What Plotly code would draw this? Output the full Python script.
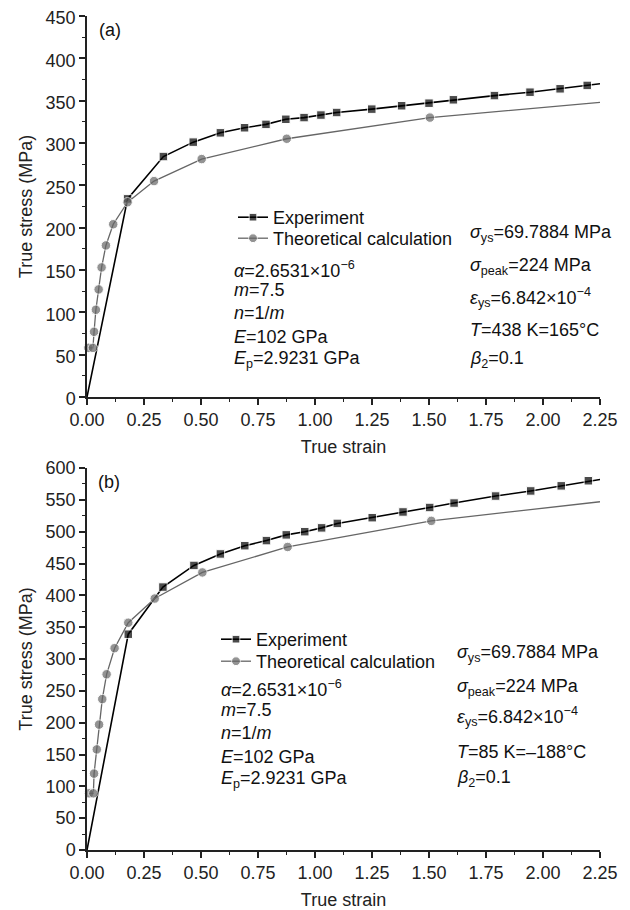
import plotly.graph_objects as go

# ---------------- data ----------------
exp_a_x = [0, 0.178, 0.335, 0.466, 0.585, 0.691, 0.785, 0.872, 0.952, 1.026, 1.095, 1.249, 1.380, 1.500, 1.607, 1.787, 1.943, 2.075, 2.194, 2.25]
exp_a_y = [0, 234, 284, 301, 312, 318, 322, 328, 330, 333, 336, 340, 344, 347, 351, 356, 360, 364, 368, 370]
th_a_x = [0.006, 0.026, 0.031, 0.039, 0.051, 0.064, 0.083, 0.115, 0.178, 0.294, 0.503, 0.876, 1.504, 2.25]
th_a_y = [58, 58, 77, 103, 127, 153, 179, 204, 230, 255, 281, 305, 330, 348]

exp_b_x = [0, 0.181, 0.333, 0.469, 0.585, 0.692, 0.787, 0.874, 0.955, 1.029, 1.098, 1.251, 1.386, 1.503, 1.610, 1.792, 1.946, 2.080, 2.199, 2.25]
exp_b_y = [0, 339, 413, 447, 465, 478, 486, 495, 500, 506, 513, 522, 531, 538, 545, 556, 564, 572, 580, 582]
th_b_x = [0.009, 0.028, 0.031, 0.043, 0.053, 0.067, 0.086, 0.121, 0.181, 0.297, 0.506, 0.880, 1.510, 2.25]
th_b_y = [89, 89, 120, 158, 197, 237, 276, 317, 357, 395, 436, 476, 517, 547]

series_names = ["Experiment", "Theoretical calculation"]
x_ticks = [0, 0.25, 0.5, 0.75, 1.0, 1.25, 1.5, 1.75, 2.0, 2.25]

params_left = ["<i>α</i>=2.6531×10<sup>−6</sup>", "<i>m</i>=7.5", "<i>n</i>=1/<i>m</i>",
               "<i>E</i>=102 GPa", "<i>E</i><sub>p</sub>=2.9231 GPa"]
params_right_a = ["<i>σ</i><sub>ys</sub>=69.7884 MPa", "<i>σ</i><sub>peak</sub>=224 MPa",
                  "<i>ε</i><sub>ys</sub>=6.842×10<sup>−4</sup>", "<i>T</i>=438 K=165°C",
                  "<i>β</i><sub>2</sub>=0.1"]
params_right_b = ["<i>σ</i><sub>ys</sub>=69.7884 MPa", "<i>σ</i><sub>peak</sub>=224 MPa",
                  "<i>ε</i><sub>ys</sub>=6.842×10<sup>−4</sup>", "<i>T</i>=85 K=–188°C",
                  "<i>β</i><sub>2</sub>=0.1"]

FONT = "Liberation Sans, Arial, sans-serif"
EXP_C = "#000000"
TH_C = "#666666"
TXT = 18

def sizes(n, s, last_zero=True, first_zero=False):
    arr = [s] * n
    if last_zero:
        arr[-1] = 0
    if first_zero:
        arr[0] = 0
    return arr

fig = go.Figure()

panels = [
    (exp_a_x, exp_a_y, th_a_x, th_a_y, "x", "y", "legend", "legend3"),
    (exp_b_x, exp_b_y, th_b_x, th_b_y, "x2", "y2", "legend2", "legend4"),
]
for ex, ey, tx, ty, xr, yr, lg_e, lg_t in panels:
    fig.add_trace(go.Scatter(x=ex, y=ey, mode="lines+markers", name=series_names[0],
                             line=dict(color=EXP_C, width=1.6),
                             marker=dict(symbol="square", color=EXP_C, size=sizes(len(ex), 8.5, True, True)),
                             xaxis=xr, yaxis=yr, legend=lg_e, cliponaxis=False))
    fig.add_trace(go.Scatter(x=tx, y=ty, mode="lines+markers", name=series_names[1],
                             line=dict(color=TH_C, width=1.3),
                             marker=dict(symbol="circle", color=TH_C, size=sizes(len(tx), 9.5)),
                             xaxis=xr, yaxis=yr, legend=lg_t, cliponaxis=False))

axis_common = dict(showline=True, linecolor="#222", linewidth=1.5, ticks="outside", ticklen=6,
                   tickwidth=1.5, tickcolor="#222", showgrid=False, zeroline=False, automargin=False,
                   ticklabeloverflow="allow",
                   tickfont=dict(family=FONT, size=TXT, color="#222"))

xa = dict(axis_common, range=[0, 2.25], tickvals=x_ticks, tickformat=".2f",
          minor=dict(ticks="outside", ticklen=3, tickwidth=1.2, tickcolor="#222", dtick=0.125, tick0=0),
          title=dict(text="True strain", font=dict(family=FONT, size=TXT, color="#222"), standoff=11))
ya_a = dict(axis_common, range=[0, 450], dtick=50, tick0=0, ticklabelshift=2,
            minor=dict(ticks="outside", ticklen=3, tickwidth=1.2, tickcolor="#222", dtick=25, tick0=0),
            title=dict(text="True stress (MPa)", font=dict(family=FONT, size=TXT, color="#222"), standoff=8))
ya_b = dict(axis_common, range=[0, 600], dtick=50, tick0=0,
            minor=dict(ticks="outside", ticklen=3, tickwidth=1.2, tickcolor="#222", dtick=25, tick0=0),
            title=dict(text="True stress (MPa)", font=dict(family=FONT, size=TXT, color="#222"), standoff=8))

leg_common = dict(font=dict(family=FONT, size=TXT, color="#111"), bgcolor="rgba(0,0,0,0)",
                  xanchor="left", yanchor="top", tracegroupgap=0, itemwidth=30)

ann = []
def add(text, x, y, xr, yr, size=TXT, anchor="left"):
    ann.append(dict(text=text, x=x, y=y, xref=xr, yref=yr, showarrow=False, xanchor=anchor,
                    yanchor="middle", font=dict(family=FONT, size=size, color="#111")))

add("(a)", 0.044, 433, "x", "y")
add("(b)", 0.04, 578, "x2", "y2")
for t, yy in zip(params_left, [150, 126, 99, 71, 44]):
    add(t, 0.636, yy, "x", "y")
for t, yy in zip(params_right_a, [193, 154, 118, 79, 44]):
    add(t, 1.671, yy, "x", "y")
for t, yy in zip(params_left, [254, 220, 184, 146, 110]):
    add(t, 0.579, yy, "x2", "y2")
for t, yy in zip(params_right_b, [309, 256, 209, 154, 113]):
    add(t, 1.614, yy, "x2", "y2")

# page body adds an 8px offset, so the figure is 622x902 and its margins are shifted by 8px
fig.update_layout(
    width=622, height=902,
    margin=dict(l=79, r=30, t=8, b=60),
    paper_bgcolor="white", plot_bgcolor="white",
    showlegend=True,
    xaxis=dict(xa, domain=[0, 1], anchor="y"),
    yaxis=dict(ya_a, domain=[0.5432, 1], anchor="x"),
    xaxis2=dict(xa, domain=[0, 1], anchor="y2"),
    yaxis2=dict(ya_b, domain=[0, 0.458], anchor="x2"),
    legend=dict(leg_common, x=(233 - 87) / 513, y=(850 - 199) / 834),
    legend3=dict(leg_common, x=(233 - 87) / 513, y=(850 - 220) / 834),
    legend2=dict(leg_common, x=(217 - 88) / 513, y=(850 - 621) / 834),
    legend4=dict(leg_common, x=(217 - 88) / 513, y=(850 - 643) / 834),
    annotations=ann,
)

fig.write_html("out.html")
